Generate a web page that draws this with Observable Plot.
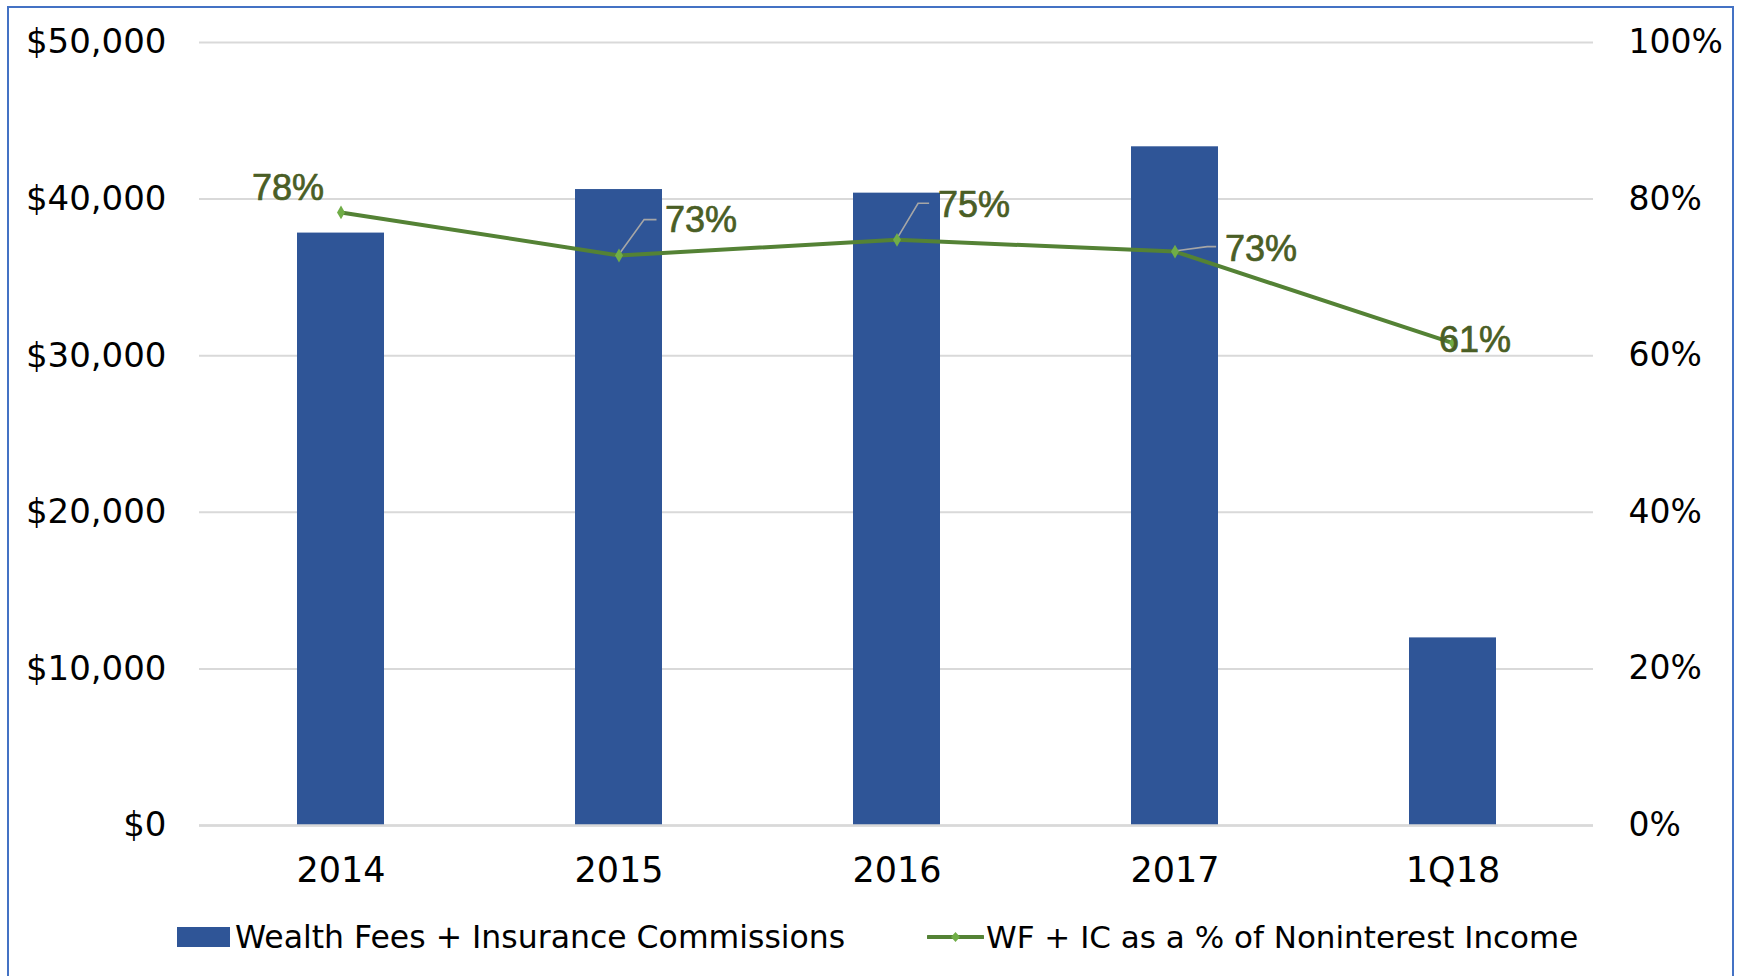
<!DOCTYPE html>
<html>
<head>
<meta charset="utf-8">
<script src="https://cdn.jsdelivr.net/npm/d3@7"></script>
<script src="https://cdn.jsdelivr.net/npm/@observablehq/plot@0.6"></script>
<style>
  html, body { margin: 0; padding: 0; overflow: hidden; background: #fff; }
  body { width: 1739px; height: 976px; position: relative; font-family: "DejaVu Sans", "Liberation Sans", Arial, sans-serif; }
  #frame { position: absolute; left: 7px; top: 6px; width: 1723px; height: 1100px; border: 2px solid #4472C4; pointer-events: none; }
  #chart { position: absolute; left: 0; top: 0; }
  .legend { position: absolute; top: 900px; left: 0; width: 1739px; height: 76px; }
  .legend .item { position: absolute; top: 0; height: 76px; display: flex; align-items: center; font-size: 31.5px; color: #000; white-space: nowrap; }
</style>
</head>
<body>
<div id="chart"></div>
<div class="legend">
  <div class="item" style="left:177px; top:-1px;">
    <span style="display:inline-block; width:53px; height:20px; background:#2F5597; margin-right:5px;"></span>
    <span>Wealth Fees + Insurance Commissions</span>
  </div>
  <div class="item" style="left:927px; top:-1px; font-size:31px;">
    <svg width="57" height="20" style="margin-right:2px;">
      <line x1="1" y1="10" x2="56" y2="10" stroke="#548235" stroke-width="4" stroke-linecap="round"></line>
      <path d="M28.5,5 L33,10 L28.5,15 L24,10 Z" fill="#70AD47"></path>
    </svg>
    <span>WF + IC as a % of Noninterest Income</span>
  </div>
</div>
<div id="frame"></div>
<script>
// ---- data ----
const categories = ["2014", "2015", "2016", "2017", "1Q18"];
const feesValues = [37830, 40610, 40380, 43340, 11980];
const pctValues = [78.3, 72.8, 74.8, 73.3, 61.6];
const pctLabels = ["78%", "73%", "75%", "73%", "61%"];
const leftTicks = [0, 10000, 20000, 30000, 40000, 50000];
const rightTicks = [0, 20, 40, 60, 80, 100];

// ---- layout (label placement, pixels relative to each point) ----
const labelOffsets = [[-53, -24], [82, -35], [77, -34], [86, -2], [22, -3]];
const leaderPaths = [null, [[25.6, -35.4], [38, -35.4]], [[21.6, -36], [32.6, -36]], [[32.7, -4.4], [41.6, -4.4]], null];

const pctToY = 50000 / 100;
const rows = categories.map((c, i) => ({
  category: c,
  fees: feesValues[i],
  pctY: pctValues[i] * pctToY,
  label: pctLabels[i],
  i
}));

const fmtDollar = d => "$" + d3.format(",")(d);
const axisFont = "'DejaVu Sans', 'Liberation Sans', Arial, sans-serif";

function leaderMark(index, scales) {
  const g = d3.create("svg:g");
  const xs = scales.x;
  const bw = xs.bandwidth ? xs.bandwidth() / 2 : 0;
  rows.forEach((r, i) => {
    const p = leaderPaths[i];
    if (!p) return;
    const x0 = xs(r.category) + bw;
    const y0 = scales.y(r.pctY);
    const pts = [[x0, y0], ...p.map(([dx, dy]) => [x0 + dx, y0 + dy])];
    g.append("path")
      .attr("d", d3.line()(pts))
      .attr("fill", "none")
      .attr("stroke", "#A6A6A6")
      .attr("stroke-width", 1.6);
  });
  return g.node();
}

const labelMarks = rows.map((r, i) => Plot.text([r], {
  x: "category",
  y: "pctY",
  text: "label",
  dx: labelOffsets[i][0],
  dy: labelOffsets[i][1],
  fill: "#4A5E25",
  stroke: "#4A5E25",
  strokeWidth: 0.7,
  fontSize: 36,
  fontFamily: "'Liberation Sans', Arial, sans-serif",
  textAnchor: "middle"
}));

const chart = Plot.plot({
  width: 1739,
  height: 900,
  marginTop: 42,
  marginBottom: 75,
  marginLeft: 199,
  marginRight: 146,
  style: { fontFamily: axisFont, fontSize: "34px", color: "#000", background: "transparent", overflow: "visible" },
  x: { type: "band", domain: categories, paddingInner: 0.688, paddingOuter: 0.344 },
  y: { domain: [0, 50000] },
  marks: [
    Plot.gridY(leftTicks, { stroke: "#D9D9D9", strokeOpacity: 1, strokeWidth: 2 }),
    Plot.barY(rows, { x: "category", y: "fees", fill: "#2F5597" }),
    Plot.ruleY([0], { stroke: "#D9D9D9", strokeWidth: 2.5 }),
    Plot.line(rows, { x: "category", y: "pctY", stroke: "#548235", strokeWidth: 4 }),
    leaderMark,
    Plot.dot(rows, { x: "category", y: "pctY", symbol: "diamond", r: 4.2, fill: "#70AD47", stroke: "none" }),
    ...labelMarks,
    Plot.axisY(leftTicks, { anchor: "left", tickSize: 0, tickPadding: 33, tickFormat: fmtDollar, label: null, fontSize: 34 }),
    Plot.axisY(rightTicks.map(v => v * pctToY), { anchor: "right", tickSize: 0, tickPadding: 35, tickFormat: d => (d / pctToY) + "%", label: null, fontSize: 33 }),
    Plot.axisX({ tickSize: 0, tickPadding: 32, label: null, fontSize: 35 })
  ]
});

document.getElementById("chart").appendChild(chart);
</script>
</body>
</html>
